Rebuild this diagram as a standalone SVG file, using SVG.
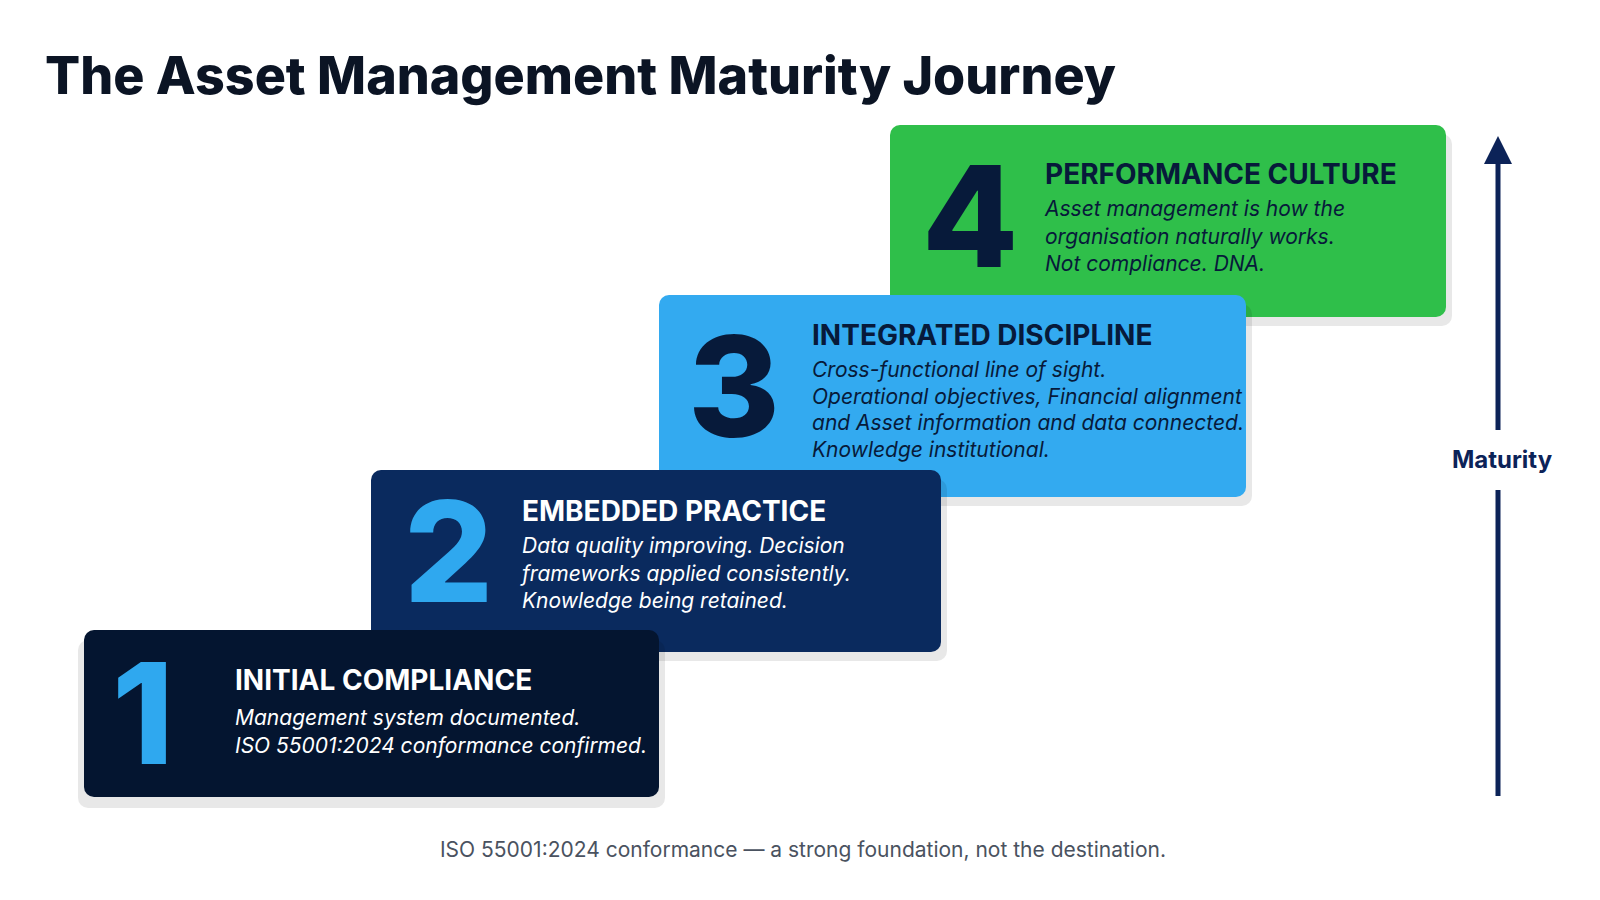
<svg xmlns="http://www.w3.org/2000/svg" width="1600" height="900" viewBox="0 0 1600 900">
<defs>
<marker id="ah" markerWidth="10" markerHeight="10" refX="5" refY="5" orient="auto" markerUnits="userSpaceOnUse" viewBox="0 0 10 10"><path d="M0,10 L5,0 L10,10 Z" fill="#0c2358"/></marker>
</defs>
<style>
text{font-family:Inter,"Noto Sans",sans-serif}
.num{font-weight:800;font-size:140px}
.ttl{font-weight:700;font-size:28px}
.body{font-style:italic;font-size:21px}
.sh{fill:#000;opacity:0.09}
</style>
<rect width="1600" height="900" fill="#fff"/>
<text x="45" y="94" font-size="52" font-weight="800" fill="#0b1424">The Asset Management Maturity Journey</text>
<g id="step4">
<rect class="sh" x="896" y="134" width="556" height="192" rx="10"/>
<rect x="890" y="125" width="556" height="192" rx="10" fill="#2fbf4a"/>
<text class="num" x="922" y="267" fill="#071a3a">4</text>
<text class="ttl" x="1045" y="184" fill="#071a3a">PERFORMANCE CULTURE</text>
<text class="body" fill="#071a3a"><tspan x="1045" y="216">Asset management is how the</tspan><tspan x="1045" y="244">organisation naturally works.</tspan><tspan x="1045" y="271">Not compliance. DNA.</tspan></text>
</g>
<g id="step3">
<rect class="sh" x="665" y="304" width="587" height="202" rx="10"/>
<rect x="659" y="295" width="587" height="202" rx="10" fill="#33aaf0"/>
<text class="num" x="688" y="437" fill="#071a3a">3</text>
<text class="ttl" x="812" y="345" fill="#071a3a">INTEGRATED DISCIPLINE</text>
<text class="body" fill="#071a3a"><tspan x="812" y="377">Cross-functional line of sight.</tspan><tspan x="812" y="404">Operational objectives, Financial alignment</tspan><tspan x="812" y="430">and Asset information and data connected.</tspan><tspan x="812" y="457">Knowledge institutional.</tspan></text>
</g>
<g id="step2">
<rect class="sh" x="377" y="479" width="570" height="182" rx="10"/>
<rect x="371" y="470" width="570" height="182" rx="10" fill="#0a2a5e"/>
<text class="num" x="404" y="602" fill="#2fa8ef">2</text>
<text class="ttl" x="522" y="521" fill="#fff">EMBEDDED PRACTICE</text>
<text class="body" fill="#fff"><tspan x="522" y="553">Data quality improving. Decision</tspan><tspan x="522" y="581">frameworks applied consistently.</tspan><tspan x="522" y="608">Knowledge being retained.</tspan></text>
</g>
<g id="step1">
<rect class="sh" x="78" y="640" width="587" height="168" rx="10"/>
<rect x="84" y="630" width="575" height="167" rx="10" fill="#041530"/>
<text class="num" x="112" y="764" fill="#2fa8ef">1</text>
<text class="ttl" x="235" y="690" fill="#fff">INITIAL COMPLIANCE</text>
<text class="body" fill="#fff"><tspan x="235" y="725">Management system documented.</tspan><tspan x="235" y="753">ISO 55001:2024 conformance confirmed.</tspan></text>
</g>
<g id="connectors">
<line x1="1498" y1="796" x2="1498" y2="490" stroke="#0c2358" stroke-width="5"/>
<line x1="1498" y1="430" x2="1498" y2="162" stroke="#0c2358" stroke-width="5"/>
<path d="M1484,164 L1498,136 L1512,164 Z" fill="#0c2358"/>
</g>
<text x="1502" y="468" text-anchor="middle" font-size="24" font-weight="700" fill="#0c2358">Maturity</text>
<text x="803" y="857" text-anchor="middle" font-size="21" fill="#4a5260">ISO 55001:2024 conformance — a strong foundation, not the destination.</text>
</svg>
